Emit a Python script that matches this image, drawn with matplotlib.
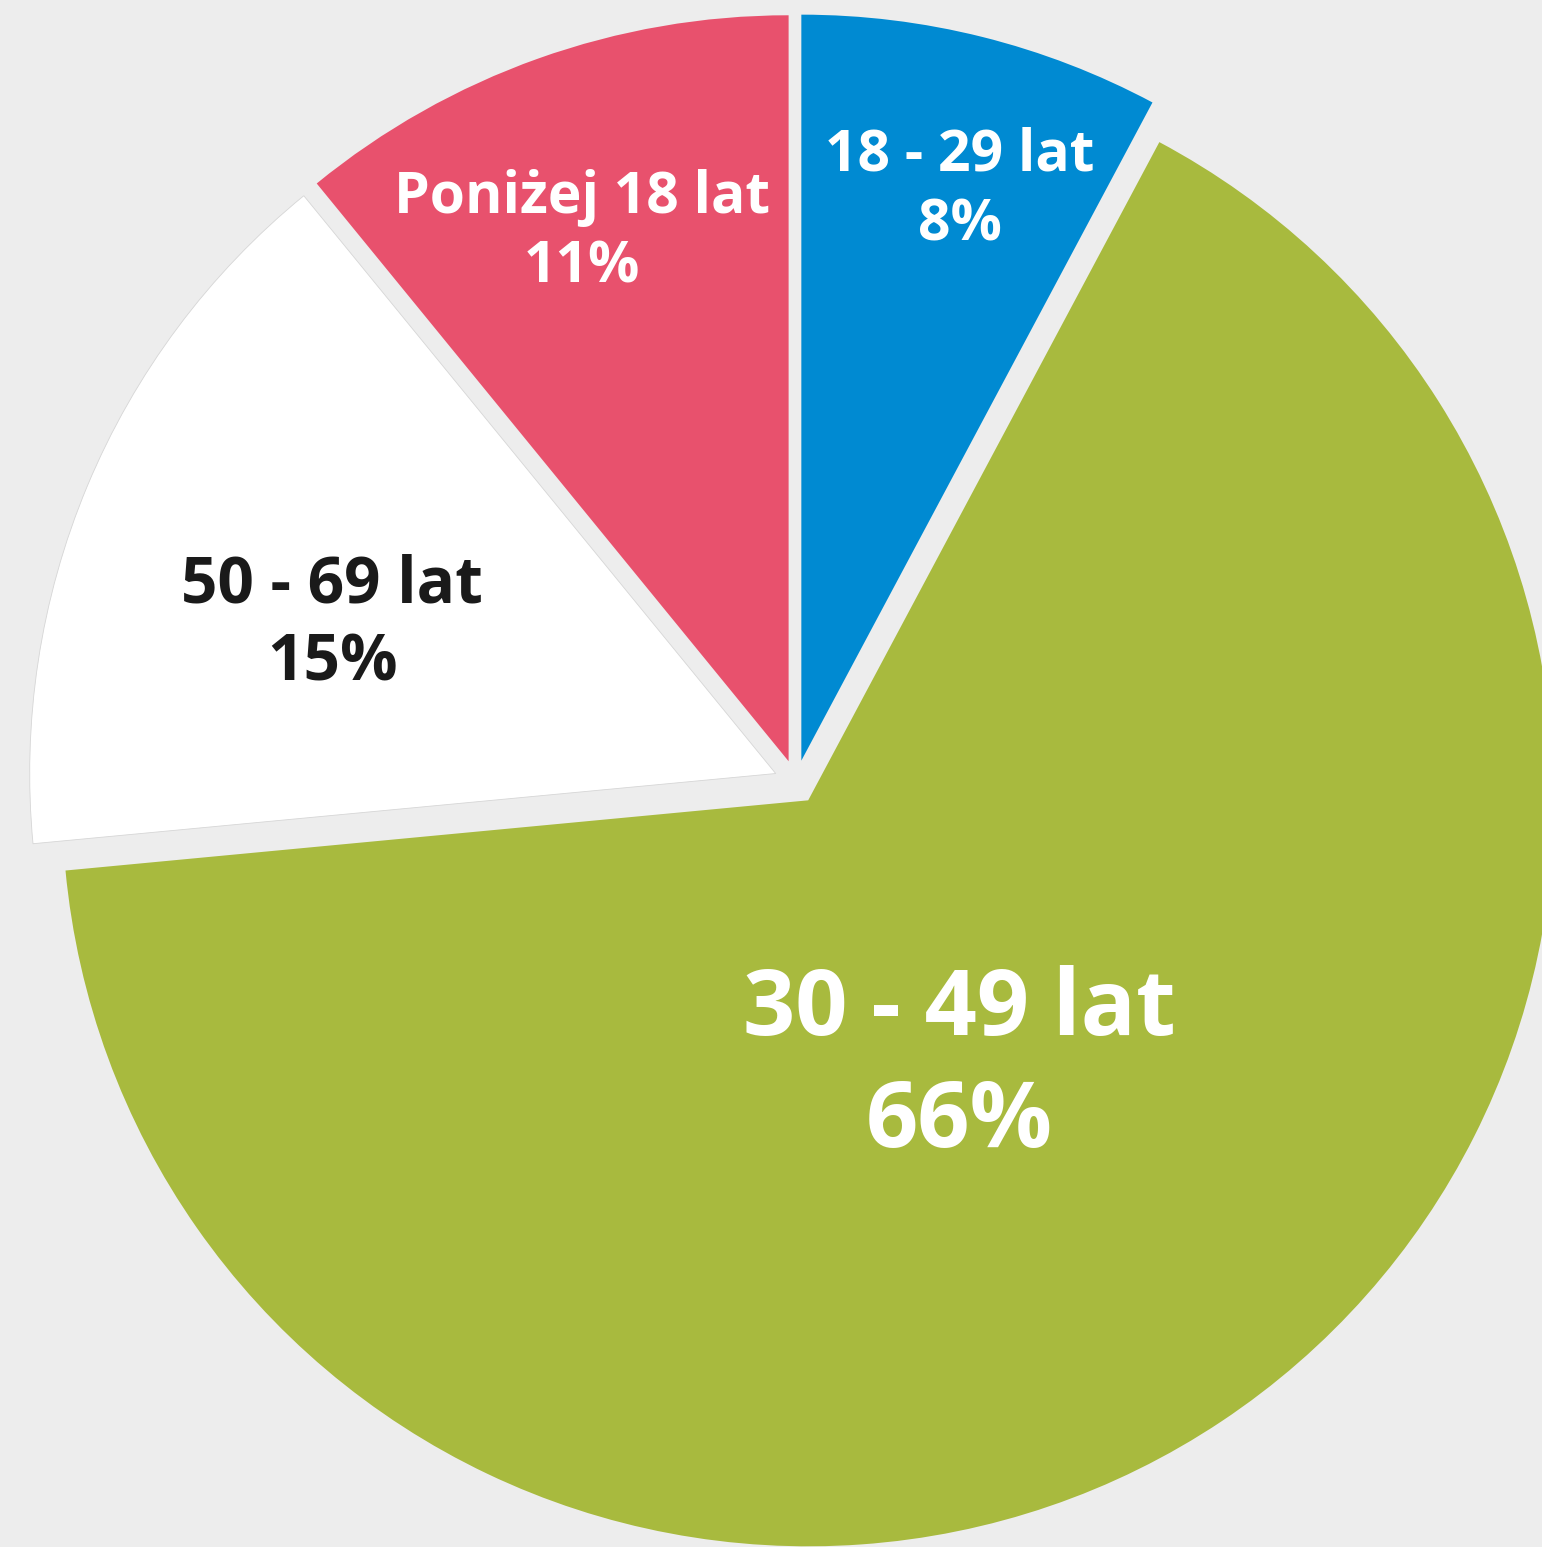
import numpy as np
import matplotlib
matplotlib.use('Agg')
import matplotlib.pyplot as plt

# data ------------------------------------------------------------
labels = ['18 - 29 lat', '30 - 49 lat', '50 - 69 lat', 'Poniżej 18 lat']
shares = [7.8, 65.7, 15.6, 10.9]          # slice sizes as drawn
pct_labels = ['8%', '66%', '15%', '11%']  # rounded values printed on the chart
colors = ['#008ad2', '#a8ba3e', '#ffffff', '#e8516d']
text_colors = ['white', 'white', '#1a1a1a', 'white']

# label placement: fraction of radius from wedge apex, angle nudge (deg), font size
label_dist = [0.793, 0.411, 0.627, 0.761]
label_turn = [-1.5, -4.2, 4.2, 1.7]
label_size = [41, 66, 46, 41]

bg = '#ededed'
W, H = 1542, 1547
R = 746

fig = plt.figure(figsize=(W / 100, H / 100), dpi=100)
fig.patch.set_facecolor(bg)
ax = fig.add_axes([0, 0, 1, 1])
ax.set_facecolor(bg)

wedges, _ = ax.pie(shares, colors=colors, startangle=90, counterclock=False,
                   radius=R, center=(796, H - 782), explode=[22] * len(shares),
                   wedgeprops=dict(linewidth=0))
wedges[2].set_edgecolor('#d6d6d6')
wedges[2].set_linewidth(0.6)

ax.set_xlim(0, W)
ax.set_ylim(0, H)
ax.set_aspect('equal')
ax.axis('off')

font = ['Open Sans', 'DejaVu Sans']
for i, w in enumerate(wedges):
    mid = np.deg2rad((w.theta1 + w.theta2) / 2 + label_turn[i])
    cx = w.center[0] + label_dist[i] * R * np.cos(mid)
    cy = w.center[1] + label_dist[i] * R * np.sin(mid)
    fs = label_size[i]
    gap = fs * 0.85
    ax.text(cx, cy + gap, labels[i], ha='center', va='center', color=text_colors[i],
            fontsize=fs, fontweight='bold', family=font)
    ax.text(cx, cy - gap, pct_labels[i], ha='center', va='center', color=text_colors[i],
            fontsize=fs, fontweight='bold', family=font)

fig.savefig('out.png', dpi=100, facecolor=bg)
